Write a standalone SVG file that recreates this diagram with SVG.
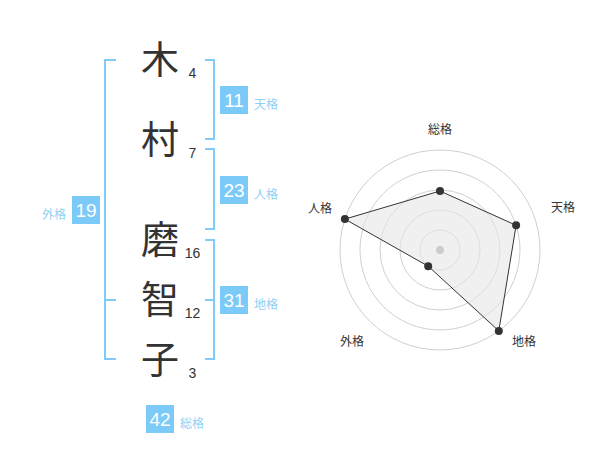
<svg xmlns="http://www.w3.org/2000/svg" width="600" height="470" viewBox="0 0 600 470">
<style>
.ch{font-family:"Noto Sans CJK JP","Noto Sans CJK SC",sans-serif;font-size:38px;fill:#333;text-anchor:middle}
.st{font-family:"Liberation Sans",Arial,sans-serif;font-size:14px;fill:#333;text-anchor:middle}
.box{fill:#7ccaf8}
.bn{font-family:"Liberation Sans",Arial,sans-serif;font-size:19px;fill:#fff;text-anchor:middle}
.lb{font-family:"Noto Sans CJK JP","Noto Sans CJK SC",sans-serif;font-size:12px;fill:#8fd0f5}
.br{fill:none;stroke:#80cbf8;stroke-width:2}
.ring{fill:none;stroke:#d0d0d0;stroke-width:1}
.rl{font-family:"Noto Sans CJK JP","Noto Sans CJK SC",sans-serif;font-size:12px;fill:#333;text-anchor:middle}
.dot{fill:#333}
</style>
<rect width="600" height="470" fill="#fff"/>
<g id="connectors">
<path class="br" d="M116,60 H105 V359 H116 M105,300 H116"/>
<path class="br" d="M205,60 H214 V139 H205"/>
<path class="br" d="M205,149 H214 V229 H205"/>
<path class="br" d="M205,240 H214 V359 H205 M205,300 H214"/>
</g>
<g id="chars">
<g id="c1"><text class="ch" x="160" y="73">木</text><text class="st" x="192.5" y="78">4</text></g>
<g id="c2"><text class="ch" x="160" y="153">村</text><text class="st" x="192.5" y="158">7</text></g>
<g id="c3"><text class="ch" x="160" y="253">磨</text><text class="st" x="192.5" y="258">16</text></g>
<g id="c4"><text class="ch" x="160" y="313">智</text><text class="st" x="192.5" y="318">12</text></g>
<g id="c5"><text class="ch" x="160" y="373">子</text><text class="st" x="192.5" y="378">3</text></g>
</g>
<g id="tenkaku"><rect class="box" x="220" y="86" width="28" height="28"/><text class="bn" x="234" y="107">11</text><text class="lb" x="254" y="109">天格</text></g>
<g id="jinkaku"><rect class="box" x="220" y="176" width="28" height="28"/><text class="bn" x="234" y="197">23</text><text class="lb" x="254" y="199">人格</text></g>
<g id="chikaku"><rect class="box" x="220" y="286" width="28" height="28"/><text class="bn" x="234" y="307">31</text><text class="lb" x="254" y="309">地格</text></g>
<g id="gaikaku"><rect class="box" x="72" y="196" width="28" height="28"/><text class="bn" x="86" y="217">19</text><text class="lb" x="66" y="219" text-anchor="end">外格</text></g>
<g id="soukaku"><rect class="box" x="146" y="405" width="28" height="28"/><text class="bn" x="160" y="426">42</text><text class="lb" x="180" y="428">総格</text></g>
<g id="radar">
<circle class="ring" cx="440" cy="250" r="20"/>
<circle class="ring" cx="440" cy="250" r="40"/>
<circle class="ring" cx="440" cy="250" r="60"/>
<circle class="ring" cx="440" cy="250" r="80"/>
<circle class="ring" cx="440" cy="250" r="100"/>
<polygon points="440,191 516.1,225.3 498.8,330.9 428.2,266.2 344.9,219.1" fill="#e6e6e6" fill-opacity="0.6" stroke="#333" stroke-width="1"/>
<circle cx="440" cy="250" r="4" fill="#ccc"/>
<circle class="dot" cx="440" cy="191" r="4"/>
<circle class="dot" cx="516.1" cy="225.3" r="4"/>
<circle class="dot" cx="498.8" cy="330.9" r="4"/>
<circle class="dot" cx="428.2" cy="266.2" r="4"/>
<circle class="dot" cx="344.9" cy="219.1" r="4"/>
<text class="rl" x="440" y="134">総格</text>
<text class="rl" x="563" y="212">天格</text>
<text class="rl" x="524" y="346">地格</text>
<text class="rl" x="352" y="346">外格</text>
<text class="rl" x="320" y="213">人格</text>
</g>
</svg>
